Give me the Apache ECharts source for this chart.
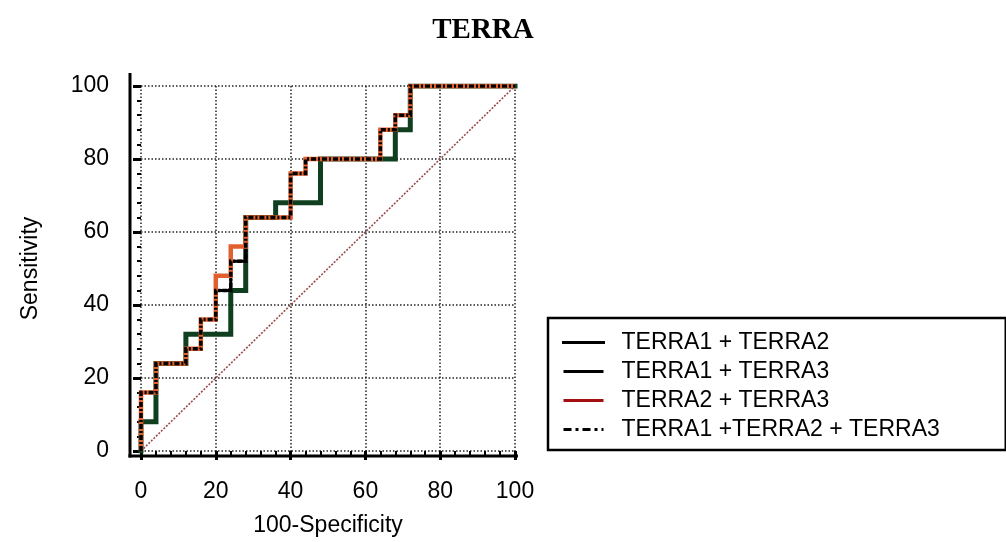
<!DOCTYPE html>
<html>
<head>
<meta charset="utf-8">
<script src="https://cdn.jsdelivr.net/npm/echarts@6/dist/echarts.min.js"></script>
<style>
  html, body { margin: 0; padding: 0; background: #fff; }
  #chart { width: 1006px; height: 542px; }
</style>
</head>
<body>
<div id="chart"></div>
<script>
// ROC curves: 100-Specificity (%) on x, Sensitivity (%) on y, listed as step corners.
const seriesNames = ['TERRA1 + TERRA2', 'TERRA1 + TERRA3', 'TERRA2 + TERRA3', 'TERRA1 +TERRA2 + TERRA3'];

const t12Fpr  = [0, 0, 4, 4, 12, 12, 24, 24, 28, 28, 36, 36, 48, 48, 68, 68, 72, 72, 100];
const t12Sens = [0, 8, 8, 24, 24, 32, 32, 44, 44, 64, 64, 68, 68, 80, 80, 88, 88, 100, 100];

const t13Fpr  = [0, 0, 4, 4, 12, 12, 16, 16, 20, 20, 24, 24, 28, 28, 40, 40, 44, 44, 64, 64, 68, 68, 72, 72, 100];
const t13Sens = [0, 16, 16, 24, 24, 28, 28, 36, 36, 44, 44, 52, 52, 64, 64, 76, 76, 80, 80, 88, 88, 92, 92, 100, 100];

const t23Fpr  = [0, 0, 4, 4, 12, 12, 16, 16, 20, 20, 24, 24, 28, 28, 40, 40, 44, 44, 64, 64, 68, 68, 72, 72, 100];
const t23Sens = [0, 16, 16, 24, 24, 28, 28, 36, 36, 48, 48, 56, 56, 64, 64, 76, 76, 80, 80, 88, 88, 92, 92, 100, 100];

const t123Fpr  = [0, 0, 4, 4, 12, 12, 16, 16, 20, 20, 24, 24, 28, 28, 40, 40, 44, 44, 64, 64, 68, 68, 72, 72, 100];
const t123Sens = [0, 16, 16, 24, 24, 28, 28, 36, 36, 44, 44, 52, 52, 64, 64, 76, 76, 80, 80, 88, 88, 92, 92, 100, 100];

// Chance line
const chanceFpr  = [0, 100];
const chanceSens = [0, 100];

const tickValues = [0, 20, 40, 60, 80, 100];

const pairs = (xs, ys) => xs.map((x, i) => [x, ys[i]]);

const FONT = "'Liberation Sans', Arial, sans-serif";
const axisMin = tickValues[0];
const axisMax = tickValues[tickValues.length - 1];
const axisStep = tickValues[1] - tickValues[0];

const chart = echarts.init(document.getElementById('chart'), null, { renderer: 'canvas' });

const gridLine = { show: true, lineStyle: { color: '#222', width: 1.5, type: [1.5, 2] } };
// Legend keys show only the stroke, no point marker
const hiddenMarker = { color: 'rgba(0,0,0,0)', borderColor: 'rgba(0,0,0,0)', borderWidth: 0, opacity: 0 };

const option = {
  backgroundColor: '#fff',
  animation: false,
  title: {
    text: 'TERRA',
    left: 478,
    top: 11,
    textAlign: 'center',
    textStyle: { fontFamily: "'Liberation Serif', 'Times New Roman', serif", fontWeight: 'bold', fontSize: 29, color: '#000' }
  },
  grid: { left: 141, right: 491, top: 86, bottom: 90 },
  xAxis: {
    type: 'value', min: axisMin, max: axisMax, interval: axisStep,
    offset: 5,
    name: '100-Specificity', nameLocation: 'middle', nameGap: 58,
    nameTextStyle: { fontFamily: FONT, fontSize: 23, color: '#000' },
    axisLine: { show: false },
    axisTick: { show: true, length: 9, lineStyle: { color: '#000', width: 3 } },
    minorTick: { show: true, splitNumber: 5, length: 5, lineStyle: { color: '#000', width: 2 } },
    axisLabel: { margin: 24, fontFamily: FONT, fontSize: 23, color: '#000' },
    splitLine: gridLine
  },
  yAxis: {
    type: 'value', min: axisMin, max: axisMax, interval: axisStep,
    offset: 11,
    name: 'Sensitivity', nameLocation: 'middle', nameGap: 88,
    nameTextStyle: { fontFamily: FONT, fontSize: 23, color: '#000' },
    axisLine: { show: false },
    axisTick: { show: true, length: 8, lineStyle: { color: '#000', width: 3 } },
    minorTick: { show: true, splitNumber: 5, length: 4, lineStyle: { color: '#000', width: 2 } },
    axisLabel: { margin: 21, fontFamily: FONT, fontSize: 23, color: '#000' },
    splitLine: gridLine
  },
  legend: {
    orient: 'vertical',
    left: 548, top: 318,
    padding: [13, 66, 9, 14],
    itemGap: 6, itemWidth: 40, itemHeight: 14,
    borderColor: '#000', borderWidth: 2.5,
    backgroundColor: '#fff',
    textStyle: { fontFamily: FONT, fontSize: 23, color: '#000', lineHeight: 22, padding: [0, 0, 0, 13] },
    data: [
      { name: seriesNames[0], itemStyle: hiddenMarker, lineStyle: { color: '#000', width: 3, type: 'solid' } },
      { name: seriesNames[1], itemStyle: hiddenMarker, lineStyle: { color: '#000', width: 3, type: 'solid' } },
      { name: seriesNames[2], itemStyle: hiddenMarker, lineStyle: { color: '#a50f0f', width: 3, type: 'solid' } },
      { name: seriesNames[3], itemStyle: hiddenMarker, lineStyle: { color: '#000', width: 3, type: [8, 4, 3, 4] } }
    ]
  },
  series: [
    {
      name: 'Chance', type: 'line', data: pairs(chanceFpr, chanceSens),
      symbol: 'none', silent: true,
      lineStyle: { color: '#9a4a4a', width: 1.6, type: [2, 1.5] }
    },
    {
      name: seriesNames[0], type: 'line', data: pairs(t12Fpr, t12Sens),
      symbol: 'none', color: '#0f3f1f',
      lineStyle: { color: '#0f3f1f', width: 5, cap: 'square', join: 'miter' }
    },
    {
      name: seriesNames[1], type: 'line', data: pairs(t13Fpr, t13Sens),
      symbol: 'none', color: '#000',
      lineStyle: { color: '#000', width: 3, join: 'miter' }
    },
    {
      name: seriesNames[2], type: 'line', data: pairs(t23Fpr, t23Sens),
      symbol: 'none', color: '#e2602e',
      lineStyle: { color: '#e2602e', width: 4.5, join: 'miter' }
    },
    {
      name: seriesNames[3], type: 'line', data: pairs(t123Fpr, t123Sens),
      symbol: 'none', color: '#000',
      lineStyle: { color: '#000', width: 3.5, type: [5, 2, 2, 2], join: 'miter' }
    }
  ]
};

chart.setOption(option);

// Axis lines sit slightly outside the plotting area and meet at a corner.
const origin = chart.convertToPixel({ gridIndex: 0 }, [axisMin, axisMin]);
const far = chart.convertToPixel({ gridIndex: 0 }, [axisMax, axisMax]);
const yLineX = origin[0] - option.yAxis.offset;
const xLineY = origin[1] + option.xAxis.offset;
chart.setOption({
  graphic: [
    { type: 'line', shape: { x1: yLineX, y1: far[1] - 13, x2: yLineX, y2: xLineY + 1.5 }, style: { stroke: '#000', lineWidth: 3 } },
    { type: 'line', shape: { x1: yLineX - 1.5, y1: xLineY, x2: far[0] + 3, y2: xLineY }, style: { stroke: '#000', lineWidth: 3 } }
  ]
});
</script>
</body>
</html>
